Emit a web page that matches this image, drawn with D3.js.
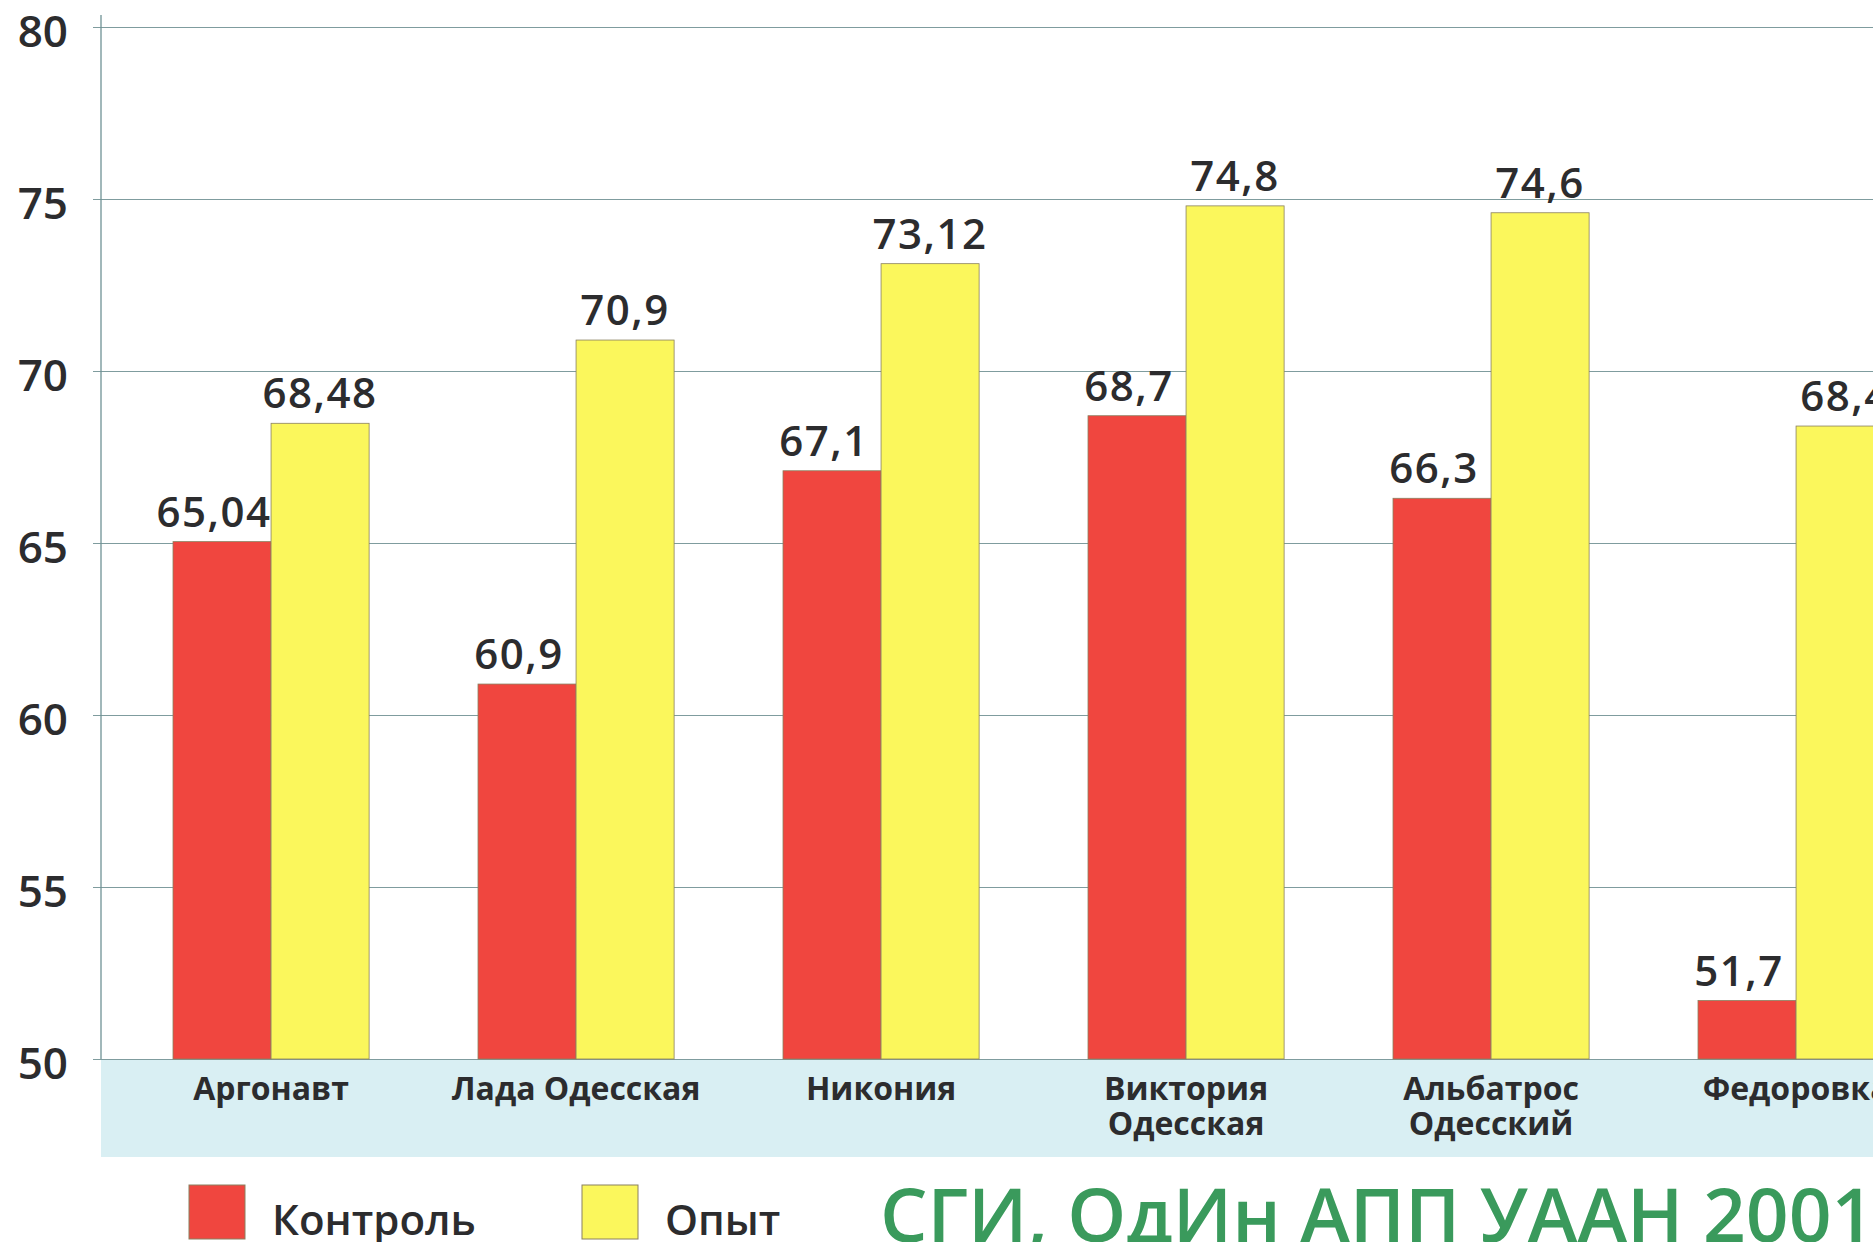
<!DOCTYPE html>
<html>
<head>
<meta charset="utf-8">
<script src="https://cdn.jsdelivr.net/npm/d3@7"></script>
<style>
  html, body { margin: 0; padding: 0; background: #ffffff; overflow: hidden; }
  svg { display: block; }
  text { font-family: "Open Sans", "Noto Sans", sans-serif; fill: #2c2c2e; }
</style>
</head>
<body>
<svg id="chart" width="1873" height="1242"></svg>
<script>
// ---- data ----
const categories = ["Аргонавт", "Лада Одесская", "Никония", "Виктория\nОдесская", "Альбатрос\nОдесский", "Федоровка"];
const seriesNames = ["Контроль", "Опыт"];
const controlValues = [65.04, 60.9, 67.1, 68.7, 66.3, 51.7];
const experimentValues = [68.48, 70.9, 73.12, 74.8, 74.6, 68.4];
const yTicks = [50, 55, 60, 65, 70, 75, 80];
const titleText = "СГИ, ОдИн АПП УААН 2001";

const colors = { "Контроль": "#f0463f", "Опыт": "#fbf75c" };

const W = 1873, H = 1242;
const svg = d3.select("#chart");

const y = d3.scaleLinear().domain([50, 80]).range([1059, 27]);
const x0 = d3.scaleBand().domain(categories)
  .range([173, 173 + 305 * (categories.length - 0.357)])
  .paddingInner(0.357).paddingOuter(0);
const x1 = d3.scaleBand().domain(seriesNames).range([0, x0.bandwidth()]);

const rows = categories.map((c, i) => ({
  cat: c,
  vals: [
    { s: "Контроль", v: controlValues[i] },
    { s: "Опыт", v: experimentValues[i] }
  ]
}));

const fmt = v => String(v).replace(".", ",");

// light blue band under the baseline
svg.append("rect")
  .attr("x", 101).attr("y", y(50))
  .attr("width", W - 101).attr("height", 98)
  .attr("fill", "#d9eff3");

// gridlines
const grid = svg.append("g").attr("transform", "translate(93,0)")
  .call(d3.axisRight(y).tickValues(yTicks).tickSize(W - 93).tickFormat(""));
grid.select(".domain").remove();
grid.selectAll("line").attr("stroke", "#7f9c9e").attr("stroke-width", 1.2);

// bars
const groups = svg.append("g").selectAll("g").data(rows).join("g")
  .attr("transform", d => `translate(${x0(d.cat)},0)`);

groups.selectAll("rect").data(d => d.vals).join("rect")
  .attr("x", d => x1(d.s))
  .attr("y", d => y(d.v))
  .attr("width", x1.bandwidth())
  .attr("height", d => y(50) - y(d.v))
  .attr("fill", d => colors[d.s])
  .attr("stroke", "#8a8060").attr("stroke-width", 0.8);

// value labels
groups.selectAll("text.val").data(d => d.vals).join("text")
  .attr("class", "val")
  .attr("x", d => x1(d.s) + x1.bandwidth() / 2 + (d.s === "Контроль" ? -8 : 0))
  .attr("y", d => y(d.v) - 15)
  .attr("text-anchor", "middle")
  .attr("font-size", 42).attr("font-weight", 600)
  .attr("letter-spacing", 1.5)
  .text(d => fmt(d.v));

// y axis
const yAxis = svg.append("g").attr("transform", "translate(101,0)")
  .call(d3.axisLeft(y).tickValues(yTicks).tickSize(8).tickPadding(25).tickSizeOuter(0));
yAxis.select(".domain").remove();
yAxis.selectAll("line").attr("stroke", "#7f9c9e");
yAxis.selectAll("text")
  .attr("font-size", 44).attr("font-weight", 600)
  .attr("font-family", "'Open Sans', sans-serif")
  .attr("fill", "#2c2c2e")
  .attr("dy", "0.45em");
svg.append("line")
  .attr("x1", 101).attr("x2", 101)
  .attr("y1", y(80) - 12).attr("y2", y(50))
  .attr("stroke", "#6f9295").attr("stroke-width", 1.3);

// category labels
svg.append("g").selectAll("text").data(categories).join("text")
  .attr("x", d => x0(d) + x0.bandwidth() / 2)
  .attr("y", 1100)
  .attr("text-anchor", "middle")
  .attr("font-size", 32).attr("font-weight", 700)
  .each(function (d) {
    const lines = d.split("\n");
    d3.select(this).selectAll("tspan").data(lines).join("tspan")
      .attr("x", x0(d) + x0.bandwidth() / 2)
      .attr("dy", (l, i) => i === 0 ? 0 : 35)
      .text(l => l);
  });

// legend
const legendX = [189, 582];
const leg = svg.append("g").selectAll("g").data(seriesNames).join("g")
  .attr("transform", (d, i) => `translate(${legendX[i]},1185)`);
leg.append("rect")
  .attr("width", 56).attr("height", 54)
  .attr("fill", d => colors[d])
  .attr("stroke", "#8a8060").attr("stroke-width", 1);
leg.append("text")
  .attr("x", 83).attr("y", 50)
  .attr("font-size", 42).attr("font-weight", 600)
  .text(d => d);

// title
svg.append("text")
  .attr("x", 880).attr("y", 1242)
  .attr("font-size", 75).attr("font-weight", 600)
  .style("fill", "#3a9a5c")
  .text(titleText);
</script>
</body>
</html>
